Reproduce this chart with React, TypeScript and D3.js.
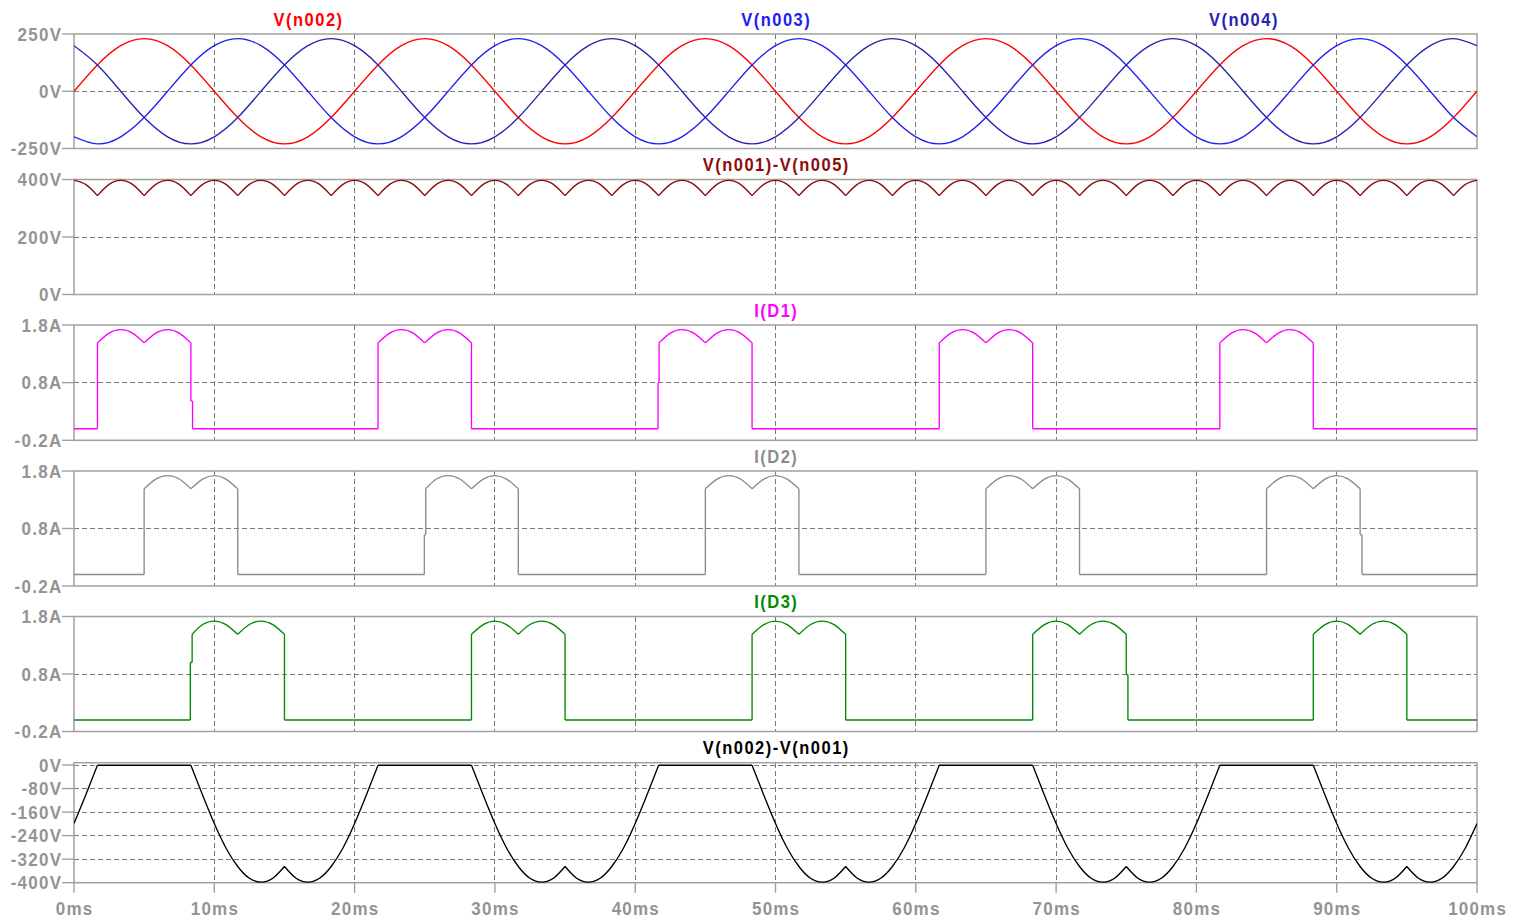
import React from "react";
import * as d3 from "d3";

type Pt = [number, number];

// ---------- DATA ----------
// time axis, ms
const timeTicks = [0, 10, 20, 30, 40, 50, 60, 70, 80, 90, 100];

// phase voltages sampled every 1/12 period (ms)
const tPhase = [
  0, 1.67, 3.33, 5, 6.67, 8.33, 10, 11.67, 13.33, 15, 16.67, 18.33,
  20, 21.67, 23.33, 25, 26.67, 28.33, 30, 31.67, 33.33, 35, 36.67, 38.33,
  40, 41.67, 43.33, 45, 46.67, 48.33, 50, 51.67, 53.33, 55, 56.67, 58.33,
  60, 61.67, 63.33, 65, 66.67, 68.33, 70, 71.67, 73.33, 75, 76.67, 78.33,
  80, 81.67, 83.33, 85, 86.67, 88.33, 90, 91.67, 93.33, 95, 96.67, 98.33,
  100,
];
const vN002 = [
  0, 115, 199, 230, 199, 115, 0, -115, -199, -230, -199, -115,
  0, 115, 199, 230, 199, 115, 0, -115, -199, -230, -199, -115,
  0, 115, 199, 230, 199, 115, 0, -115, -199, -230, -199, -115,
  0, 115, 199, 230, 199, 115, 0, -115, -199, -230, -199, -115,
  0, 115, 199, 230, 199, 115, 0, -115, -199, -230, -199, -115,
  0,
];
const vN003 = [
  -199, -230, -199, -115, 0, 115, 199, 230, 199, 115, 0, -115,
  -199, -230, -199, -115, 0, 115, 199, 230, 199, 115, 0, -115,
  -199, -230, -199, -115, 0, 115, 199, 230, 199, 115, 0, -115,
  -199, -230, -199, -115, 0, 115, 199, 230, 199, 115, 0, -115,
  -199, -230, -199, -115, 0, 115, 199, 230, 199, 115, 0, -115,
  -199,
];
const vN004 = [
  199, 115, 0, -115, -199, -230, -199, -115, 0, 115, 199, 230,
  199, 115, 0, -115, -199, -230, -199, -115, 0, 115, 199, 230,
  199, 115, 0, -115, -199, -230, -199, -115, 0, 115, 199, 230,
  199, 115, 0, -115, -199, -230, -199, -115, 0, 115, 199, 230,
  199, 115, 0, -115, -199, -230, -199, -115, 0, 115, 199, 230,
  199,
];

// rectified output V(n001)-V(n005)
const tOut = [
  0, 0.83, 1.67, 2.5, 3.33, 4.17, 5, 5.83, 6.67, 7.5, 8.33, 9.17, 10, 10.83, 11.67, 12.5, 13.33, 14.17, 15, 15.83, 16.67, 17.5, 18.33, 19.17,
  20, 20.83, 21.67, 22.5, 23.33, 24.17, 25, 25.83, 26.67, 27.5, 28.33, 29.17, 30, 30.83, 31.67, 32.5, 33.33, 34.17, 35, 35.83, 36.67, 37.5, 38.33, 39.17,
  40, 40.83, 41.67, 42.5, 43.33, 44.17, 45, 45.83, 46.67, 47.5, 48.33, 49.17, 50, 50.83, 51.67, 52.5, 53.33, 54.17, 55, 55.83, 56.67, 57.5, 58.33, 59.17,
  60, 60.83, 61.67, 62.5, 63.33, 64.17, 65, 65.83, 66.67, 67.5, 68.33, 69.17, 70, 70.83, 71.67, 72.5, 73.33, 74.17, 75, 75.83, 76.67, 77.5, 78.33, 79.17,
  80, 80.83, 81.67, 82.5, 83.33, 84.17, 85, 85.83, 86.67, 87.5, 88.33, 89.17, 90, 90.83, 91.67, 92.5, 93.33, 94.17, 95, 95.83, 96.67, 97.5, 98.33, 99.17,
  100,
];
const vOut = [
  397, 383, 344, 383, 397, 383, 344, 383, 397, 383, 344, 383, 397, 383, 344, 383, 397, 383, 344, 383, 397, 383, 344, 383,
  397, 383, 344, 383, 397, 383, 344, 383, 397, 383, 344, 383, 397, 383, 344, 383, 397, 383, 344, 383, 397, 383, 344, 383,
  397, 383, 344, 383, 397, 383, 344, 383, 397, 383, 344, 383, 397, 383, 344, 383, 397, 383, 344, 383, 397, 383, 344, 383,
  397, 383, 344, 383, 397, 383, 344, 383, 397, 383, 344, 383, 397, 383, 344, 383, 397, 383, 344, 383, 397, 383, 344, 383,
  397, 383, 344, 383, 397, 383, 344, 383, 397, 383, 344, 383, 397, 383, 344, 383, 397, 383, 344, 383, 397, 383, 344, 383,
  397,
];
const outKinks = [
  1.67, 5, 8.33, 11.67, 15, 18.33, 21.67, 25, 28.33, 31.67, 35, 38.33, 41.67, 45, 48.33,
  51.67, 55, 58.33, 61.67, 65, 68.33, 71.67, 75, 78.33, 81.67, 85, 88.33, 91.67, 95, 98.33,
];

// diode currents (A)
const iD1: Pt[] = [
  [0, 0], [1.67, 0], [1.67, 1.49], [2.5, 1.66], [3.33, 1.72], [4.17, 1.66], [5, 1.49], [5.83, 1.66], [6.67, 1.72], [7.5, 1.66], [8.33, 1.49], [8.33, 0.48], [8.45, 0.48], [8.45, 0],
  [21.67, 0], [21.67, 1.49], [22.5, 1.66], [23.33, 1.72], [24.17, 1.66], [25, 1.49], [25.83, 1.66], [26.67, 1.72], [27.5, 1.66], [28.33, 1.49], [28.33, 0],
  [41.63, 0], [41.63, 0.8], [41.7, 0.8], [41.7, 1.49], [42.5, 1.66], [43.33, 1.72], [44.17, 1.66], [45, 1.49], [45.83, 1.66], [46.67, 1.72], [47.5, 1.66], [48.33, 1.49], [48.33, 0],
  [61.67, 0], [61.67, 1.49], [62.5, 1.66], [63.33, 1.72], [64.17, 1.66], [65, 1.49], [65.83, 1.66], [66.67, 1.72], [67.5, 1.66], [68.33, 1.49], [68.33, 0],
  [81.67, 0], [81.67, 1.49], [82.5, 1.66], [83.33, 1.72], [84.17, 1.66], [85, 1.49], [85.83, 1.66], [86.67, 1.72], [87.5, 1.66], [88.33, 1.49], [88.33, 0],
  [100, 0],
];
const iD1Kinks = [1.67, 5, 8.33, 8.45, 21.67, 25, 28.33, 41.63, 41.7, 45, 48.33, 61.67, 65, 68.33, 81.67, 85, 88.33];

const iD2: Pt[] = [
  [0, 0], [5, 0], [5, 1.49], [5.83, 1.66], [6.67, 1.72], [7.5, 1.66], [8.33, 1.49], [9.17, 1.66], [10, 1.72], [10.83, 1.66], [11.67, 1.49], [11.67, 0],
  [24.97, 0], [24.97, 0.69], [25.07, 0.69], [25.07, 1.49], [25.83, 1.66], [26.67, 1.72], [27.5, 1.66], [28.33, 1.49], [29.17, 1.66], [30, 1.72], [30.83, 1.66], [31.67, 1.49], [31.67, 0],
  [45, 0], [45, 1.49], [45.83, 1.66], [46.67, 1.72], [47.5, 1.66], [48.33, 1.49], [49.17, 1.66], [50, 1.72], [50.83, 1.66], [51.67, 1.49], [51.67, 0],
  [65, 0], [65, 1.49], [65.83, 1.66], [66.67, 1.72], [67.5, 1.66], [68.33, 1.49], [69.17, 1.66], [70, 1.72], [70.83, 1.66], [71.67, 1.49], [71.67, 0],
  [85, 0], [85, 1.49], [85.83, 1.66], [86.67, 1.72], [87.5, 1.66], [88.33, 1.49], [89.17, 1.66], [90, 1.72], [90.83, 1.66], [91.67, 1.49], [91.67, 0.69], [91.8, 0.69], [91.8, 0],
  [100, 0],
];
const iD2Kinks = [5, 8.33, 11.67, 24.97, 25.07, 28.33, 31.67, 45, 48.33, 51.67, 65, 68.33, 71.67, 85, 88.33, 91.67, 91.8];

const iD3: Pt[] = [
  [0, 0], [8.29, 0], [8.29, 1.0], [8.42, 1.0], [8.42, 1.49], [9.17, 1.66], [10, 1.72], [10.83, 1.66], [11.67, 1.49], [12.5, 1.66], [13.33, 1.72], [14.17, 1.66], [15, 1.49], [15, 0],
  [28.33, 0], [28.33, 1.49], [29.17, 1.66], [30, 1.72], [30.83, 1.66], [31.67, 1.49], [32.5, 1.66], [33.33, 1.72], [34.17, 1.66], [35, 1.49], [35, 0],
  [48.33, 0], [48.33, 1.49], [49.17, 1.66], [50, 1.72], [50.83, 1.66], [51.67, 1.49], [52.5, 1.66], [53.33, 1.72], [54.17, 1.66], [55, 1.49], [55, 0],
  [68.33, 0], [68.33, 1.49], [69.17, 1.66], [70, 1.72], [70.83, 1.66], [71.67, 1.49], [72.5, 1.66], [73.33, 1.72], [74.17, 1.66], [75, 1.49], [75, 0.79], [75.12, 0.79], [75.12, 0],
  [88.33, 0], [88.33, 1.49], [89.17, 1.66], [90, 1.72], [90.83, 1.66], [91.67, 1.49], [92.5, 1.66], [93.33, 1.72], [94.17, 1.66], [95, 1.49], [95, 0],
  [100, 0],
];
const iD3Kinks = [8.29, 8.42, 11.67, 15, 28.33, 31.67, 35, 48.33, 51.67, 55, 68.33, 71.67, 75, 75.12, 88.33, 91.67, 95];

// diode voltage V(n002)-V(n001)
const vDiode: Pt[] = [
  [0, -199], [0.83, -103], [1.67, -1],
  [8.33, -1], [9.17, -103], [10, -199], [10.83, -282], [11.67, -345], [12.5, -385], [13.33, -398], [14.17, -385], [15, -345], [15.83, -385], [16.67, -398], [17.5, -385], [18.33, -345], [19.17, -282], [20, -199], [20.83, -103], [21.67, -1],
  [28.33, -1], [29.17, -103], [30, -199], [30.83, -282], [31.67, -345], [32.5, -385], [33.33, -398], [34.17, -385], [35, -345], [35.83, -385], [36.67, -398], [37.5, -385], [38.33, -345], [39.17, -282], [40, -199], [40.83, -103], [41.67, -1],
  [48.33, -1], [49.17, -103], [50, -199], [50.83, -282], [51.67, -345], [52.5, -385], [53.33, -398], [54.17, -385], [55, -345], [55.83, -385], [56.67, -398], [57.5, -385], [58.33, -345], [59.17, -282], [60, -199], [60.83, -103], [61.67, -1],
  [68.33, -1], [69.17, -103], [70, -199], [70.83, -282], [71.67, -345], [72.5, -385], [73.33, -398], [74.17, -385], [75, -345], [75.83, -385], [76.67, -398], [77.5, -385], [78.33, -345], [79.17, -282], [80, -199], [80.83, -103], [81.67, -1],
  [88.33, -1], [89.17, -103], [90, -199], [90.83, -282], [91.67, -345], [92.5, -385], [93.33, -398], [94.17, -385], [95, -345], [95.83, -385], [96.67, -398], [97.5, -385], [98.33, -345], [99.17, -282], [100, -199],
];
const vDiodeKinks = [1.67, 8.33, 15, 21.67, 28.33, 35, 41.67, 48.33, 55, 61.67, 68.33, 75, 81.67, 88.33, 95];

// axis ticks per pane
const ticksPhase = [250, 0, -250];
const ticksOut = [400, 200, 0];
const ticksCurrent = [1.8, 0.8, -0.2];
const ticksDiode = [0, -80, -160, -240, -320, -400];

// ---------- LAYOUT / STYLE ----------
const W = 1513;
const H = 919;
const X0 = 74;
const X1 = 1477;
const FONT = "'Liberation Sans', Arial, sans-serif";
const LABEL_GRAY = "#949494";
const BORDER = "#a0a0a0";
const GRID = "#7a7a7a";

const zip = (t: number[], v: number[]): Pt[] => t.map((ti, i) => [ti, v[i]] as Pt);

interface Trace { name: string; color: string; pts: Pt[]; kinks: number[]; titleX: number }
interface Pane {
  top: number; bottom: number; domain: [number, number]; range: [number, number];
  ticks: number[]; unit: string; traces: Trace[];
}

const panes: Pane[] = [
  {
    top: 34, bottom: 148.5, domain: [-250, 250], range: [148.5, 34], ticks: ticksPhase, unit: "V",
    traces: [
      { name: "V(n002)", color: "#ff0000", pts: zip(tPhase, vN002), kinks: [], titleX: 1 / 6 },
      { name: "V(n003)", color: "#2020f0", pts: zip(tPhase, vN003), kinks: [], titleX: 1 / 2 },
      { name: "V(n004)", color: "#2424b0", pts: zip(tPhase, vN004), kinks: [], titleX: 5 / 6 },
    ],
  },
  {
    top: 179.5, bottom: 294.5, domain: [0, 400], range: [294.5, 179.5], ticks: ticksOut, unit: "V",
    traces: [{ name: "V(n001)-V(n005)", color: "#8c0c0c", pts: zip(tOut, vOut), kinks: outKinks, titleX: 1 / 2 }],
  },
  {
    top: 325, bottom: 440.3, domain: [-0.2, 1.8], range: [440.3, 325], ticks: ticksCurrent, unit: "A",
    traces: [{ name: "I(D1)", color: "#ff00ff", pts: iD1, kinks: iD1Kinks, titleX: 1 / 2 }],
  },
  {
    top: 471, bottom: 586, domain: [-0.2, 1.8], range: [586, 471], ticks: ticksCurrent, unit: "A",
    traces: [{ name: "I(D2)", color: "#8c8c8c", pts: iD2, kinks: iD2Kinks, titleX: 1 / 2 }],
  },
  {
    top: 616.5, bottom: 731.5, domain: [-0.2, 1.8], range: [731.5, 616.5], ticks: ticksCurrent, unit: "A",
    traces: [{ name: "I(D3)", color: "#008a00", pts: iD3, kinks: iD3Kinks, titleX: 1 / 2 }],
  },
  {
    top: 762.7, bottom: 882.7, domain: [-400, 0], range: [882.7, 765], ticks: ticksDiode, unit: "V",
    traces: [{ name: "V(n002)-V(n001)", color: "#000000", pts: vDiode, kinks: vDiodeKinks, titleX: 1 / 2 }],
  },
];

const x = d3.scaleLinear().domain([0, 100]).range([X0, X1]);

function tracePath(pts: Pt[], kinks: number[], y: d3.ScaleLinear<number, number>): string {
  const isKink = (t: number) => kinks.some((k) => Math.abs(k - t) < 1e-6);
  const runs: Pt[][] = [];
  let cur: Pt[] = [pts[0]];
  for (let i = 1; i < pts.length; i++) {
    cur.push(pts[i]);
    if (isKink(pts[i][0]) && i < pts.length - 1) {
      runs.push(cur);
      cur = [pts[i]];
    }
  }
  runs.push(cur);
  return runs
    .map((r) =>
      d3
        .line<Pt>()
        .x((d) => x(d[0]))
        .y((d) => y(d[1]))
        .curve(r.length > 2 ? d3.curveNatural : d3.curveLinear)(r) || ""
    )
    .join("");
}

function Label(props: {
  x: number; y: number; anchor: "start" | "middle" | "end"; size: number; spacing: number; color: string; text: string;
}) {
  return (
    <text
      transform={`translate(${props.x},${props.y}) scale(1,1.08)`}
      textAnchor={props.anchor}
      fontFamily={FONT}
      fontWeight="bold"
      fontSize={props.size}
      letterSpacing={props.spacing}
      fill={props.color}
    >
      {props.text}
    </text>
  );
}

function PaneView({ pane, isLast }: { pane: Pane; isLast: boolean }) {
  const y = d3.scaleLinear().domain(pane.domain).range(pane.range);
  const gridTimes = timeTicks.filter((t) => t > 0 && t < 100);
  const clipId = `clip-${Math.round(pane.top)}`;
  return (
    <g>
      <defs>
        <clipPath id={clipId}>
          <rect x={X0} y={pane.top - 2} width={X1 - X0} height={pane.bottom - pane.top + 4} />
        </clipPath>
      </defs>
      {/* horizontal grid */}
      {pane.ticks.map((v) => {
        const yy = y(v);
        if (Math.abs(yy - pane.top) < 1 || Math.abs(yy - pane.bottom) < 1) return null;
        return (
          <line key={`h${v}`} x1={X0} x2={X1} y1={yy} y2={yy} stroke={GRID} strokeWidth={1}
            strokeDasharray="5,3" shapeRendering="crispEdges" />
        );
      })}
      {/* vertical grid */}
      {gridTimes.map((t) => (
        <line key={`v${t}`} x1={x(t)} x2={x(t)} y1={pane.top} y2={pane.bottom} stroke={GRID} strokeWidth={1}
          strokeDasharray="5,3" shapeRendering="crispEdges" />
      ))}
      {/* border */}
      <rect x={X0} y={pane.top} width={X1 - X0} height={pane.bottom - pane.top} fill="none" stroke={BORDER}
        strokeWidth={1.5} />
      {/* y ticks and labels */}
      {pane.ticks.map((v) => (
        <g key={`t${v}`}>
          <line x1={62} x2={X0} y1={y(v)} y2={y(v)} stroke={BORDER} strokeWidth={1.4} />
          <Label x={62.5} y={y(v) + 6.6} anchor="end" size={17} spacing={1.3} color={LABEL_GRAY} text={`${v}${pane.unit}`} />
        </g>
      ))}
      {/* traces */}
      <g clipPath={`url(#${clipId})`}>
        {pane.traces.map((tr) => (
          <path
            key={tr.name}
            d={tracePath(tr.pts, tr.kinks, y)}
            fill="none"
            stroke={tr.color}
            strokeWidth={1.35}
            strokeLinejoin="round"
          />
        ))}
      </g>
      {/* titles */}
      {pane.traces.map((tr) => (
        <Label
          key={`n${tr.name}`}
          x={X0 + (X1 - X0) * tr.titleX + 0.75}
          y={pane.top - 8.5}
          anchor="middle"
          size={16.5}
          spacing={1.5}
          color={tr.color}
          text={tr.name}
        />
      ))}
      {/* x ticks */}
      {isLast &&
        timeTicks.map((t) => (
          <g key={`x${t}`}>
            <line x1={x(t)} x2={x(t)} y1={pane.bottom} y2={pane.bottom + 10} stroke={BORDER} strokeWidth={1.4} />
            <Label x={x(t) + 0.6} y={915} anchor="middle" size={17} spacing={1.2} color={LABEL_GRAY} text={`${t}ms`} />
          </g>
        ))}
    </g>
  );
}

export default function App() {
  return (
    <svg
      width={W}
      height={H}
      viewBox={`0 0 ${W} ${H}`}
      style={{ position: "absolute", left: 0, top: 0, background: "#ffffff" }}
    >
      <rect x={0} y={0} width={W} height={H} fill="#ffffff" />
      {panes.map((p, i) => (
        <PaneView key={i} pane={p} isLast={i === panes.length - 1} />
      ))}
    </svg>
  );
}
